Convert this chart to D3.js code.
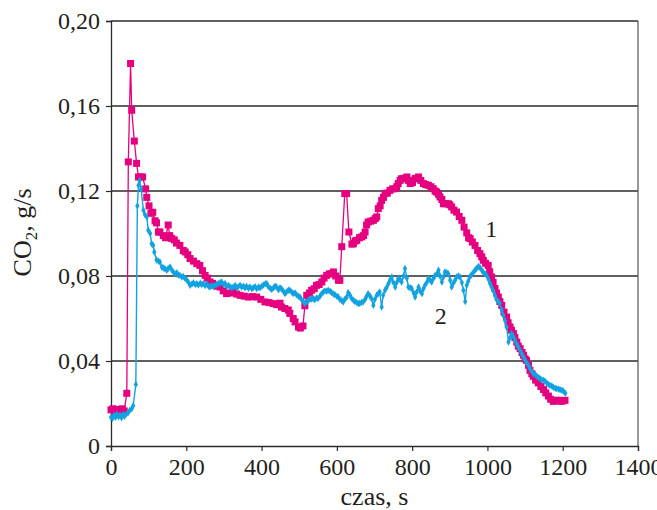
<!DOCTYPE html>
<html>
<head>
<meta charset="utf-8">
<script src="https://cdn.jsdelivr.net/npm/d3@7"></script>
<style>
  body { margin: 0; background: #fff; }
  text { font-family: "Liberation Serif", "Times New Roman", serif; fill: #231f20; }
</style>
</head>
<body>
<div id="chart"></div>
<script>
// time axis ticks and y axis ticks
const xTicks = [0, 200, 400, 600, 800, 1000, 1200, 1400];
const yTicks = [0, 0.04, 0.08, 0.12, 0.16, 0.2];

// series 1 (magenta, squares)
const time1 = [0, 5, 10, 15, 20, 25, 30, 35, 42, 46, 52, 55, 62, 68, 73, 79, 84, 92, 95, 101,
  106, 111, 117, 121, 126, 130, 139, 145, 152, 156, 161, 168, 174, 183, 192, 197, 204, 210, 219, 228,
  236, 243, 250, 256, 263, 270, 276, 283, 290, 298, 307, 316, 325, 334, 343, 354, 365, 376, 387, 398,
  409, 420, 431, 440, 449, 453, 462, 471, 475, 484, 489, 498, 503, 510, 515, 520, 527, 533, 540, 546,
  553, 560, 566, 573, 580, 586, 591, 597, 604, 608, 613, 621, 626, 632, 640, 644, 649, 653, 660, 666,
  671, 675, 679, 683, 690, 697, 702, 706, 710, 715, 719, 724, 728, 734, 741, 748, 755, 759, 763, 768,
  772, 779, 786, 790, 795, 801, 808, 812, 817, 823, 830, 836, 843, 850, 856, 861, 865, 870, 874, 879,
  883, 890, 896, 900, 905, 911, 918, 925, 932, 938, 945, 950, 954, 960, 967, 974, 980, 985, 989, 995,
  1002, 1006, 1011, 1015, 1020, 1024, 1029, 1033, 1038, 1044, 1051, 1055, 1060, 1064, 1069, 1073, 1078, 1082, 1087, 1092,
  1096, 1100, 1104, 1109, 1113, 1118, 1122, 1128, 1135, 1142, 1149, 1155, 1162, 1168, 1175, 1182, 1189, 1195, 1200, 1206];
const co2_1 = [0.017, 0.0175, 0.016, 0.0172, 0.017, 0.0168, 0.0175, 0.0165, 0.0248, 0.1337, 0.18, 0.158, 0.1435, 0.133, 0.1266, 0.1266, 0.1266, 0.121, 0.117, 0.113,
  0.1095, 0.11, 0.106, 0.105, 0.1007, 0.1007, 0.099, 0.098, 0.104, 0.099, 0.0977, 0.097, 0.0955, 0.0944, 0.092, 0.0913, 0.09, 0.0882, 0.087, 0.0858,
  0.085, 0.0825, 0.0803, 0.079, 0.0772, 0.0765, 0.0756, 0.0752, 0.0748, 0.073, 0.0717, 0.072, 0.0725, 0.0715, 0.0709, 0.0705, 0.0701, 0.0703, 0.0701, 0.069,
  0.0678, 0.0675, 0.067, 0.0665, 0.0672, 0.0654, 0.0647, 0.064, 0.0624, 0.06, 0.0584, 0.056, 0.0555, 0.0565, 0.066, 0.0709, 0.072, 0.0733, 0.074, 0.0756,
  0.076, 0.0772, 0.079, 0.0803, 0.081, 0.0811, 0.0819, 0.08, 0.078, 0.078, 0.0938, 0.1188, 0.1188, 0.1007, 0.095, 0.0952, 0.0965, 0.0968, 0.098, 0.0984,
  0.099, 0.1007, 0.104, 0.1054, 0.1058, 0.1062, 0.107, 0.1078, 0.1117, 0.113, 0.1156, 0.117, 0.1188, 0.119, 0.1203, 0.121, 0.1211, 0.122, 0.1235, 0.125,
  0.1258, 0.126, 0.1266, 0.125, 0.1235, 0.124, 0.1258, 0.126, 0.1266, 0.125, 0.1235, 0.123, 0.1227, 0.122, 0.1211, 0.12, 0.1195, 0.1185, 0.1172, 0.116,
  0.114, 0.114, 0.114, 0.1135, 0.1125, 0.111, 0.1101, 0.108, 0.1062, 0.103, 0.1003, 0.098, 0.0976, 0.096, 0.0944, 0.092, 0.0905, 0.089, 0.0874, 0.086,
  0.085, 0.082, 0.0795, 0.077, 0.0741, 0.072, 0.0701, 0.068, 0.0662, 0.063, 0.0607, 0.058, 0.056, 0.0545, 0.0529, 0.051, 0.0489, 0.047, 0.0458, 0.044,
  0.0427, 0.041, 0.0403, 0.038, 0.0356, 0.034, 0.0328, 0.031, 0.0297, 0.028, 0.0266, 0.025, 0.0235, 0.022, 0.021, 0.0215, 0.0215, 0.021, 0.0212, 0.0215];

// series 2 (cyan, diamonds)
const time2 = [0, 4, 8, 12, 16, 20, 24, 28, 32, 36, 40, 45, 50, 55, 59, 66, 70, 73, 76, 80,
  86, 90, 95, 99, 104, 108, 112, 115, 121, 126, 130, 135, 139, 143, 148, 152, 157, 161, 166, 170,
  175, 179, 183, 188, 192, 197, 201, 206, 210, 215, 219, 224, 228, 232, 237, 241, 245, 250, 254, 259,
  263, 267, 272, 276, 281, 285, 290, 294, 299, 303, 308, 312, 316, 321, 325, 330, 334, 338, 343, 347,
  352, 356, 360, 365, 369, 374, 378, 383, 387, 392, 396, 401, 405, 410, 414, 418, 423, 427, 432, 436,
  440, 445, 449, 453, 458, 462, 466, 471, 475, 480, 484, 489, 493, 498, 502, 506, 511, 515, 520, 524,
  528, 533, 537, 541, 546, 550, 555, 559, 564, 568, 573, 577, 582, 586, 591, 595, 600, 604, 608, 613,
  617, 621, 626, 630, 635, 639, 644, 648, 653, 657, 661, 666, 670, 675, 679, 683, 688, 692, 697, 701,
  706, 710, 714, 719, 723, 728, 732, 737, 741, 746, 750, 755, 759, 763, 768, 772, 777, 781, 786, 790,
  795, 799, 804, 808, 812, 817, 821, 826, 830, 834, 839, 843, 848, 852, 857, 861, 866, 870, 874, 879,
  883, 887, 892, 896, 901, 905, 909, 914, 918, 923, 927, 932, 936, 941, 945, 949, 953, 957, 962, 967,
  971, 976, 980, 985, 989, 994, 998, 1003, 1007, 1011, 1016, 1020, 1024, 1029, 1033, 1038, 1042, 1047, 1051, 1056,
  1060, 1064, 1069, 1073, 1078, 1082, 1087, 1091, 1096, 1100, 1104, 1109, 1113, 1118, 1122, 1127, 1131, 1136, 1140, 1144,
  1149, 1153, 1158, 1162, 1166, 1171, 1175, 1180, 1184, 1189, 1193, 1198, 1202, 1207];
const co2_2 = [0.0135, 0.013, 0.0145, 0.0135, 0.015, 0.0138, 0.0145, 0.0133, 0.0148, 0.014, 0.015, 0.0155, 0.0168, 0.0175, 0.019, 0.029, 0.113, 0.1227, 0.125, 0.121,
  0.111, 0.109, 0.1078, 0.1015, 0.1, 0.0952, 0.0945, 0.0913, 0.0875, 0.087, 0.0866, 0.0842, 0.0838, 0.0835, 0.0827, 0.0835, 0.0842, 0.083, 0.0818, 0.0811,
  0.0815, 0.0805, 0.0803, 0.0795, 0.0798, 0.0788, 0.0782, 0.077, 0.0756, 0.0762, 0.0768, 0.076, 0.0764, 0.0758, 0.0766, 0.076, 0.0764, 0.0755, 0.0762, 0.0752,
  0.0748, 0.0755, 0.075, 0.0756, 0.076, 0.0765, 0.0768, 0.0772, 0.076, 0.0765, 0.0752, 0.0756, 0.075, 0.0745, 0.0748, 0.0755, 0.0745, 0.075, 0.0756, 0.0748,
  0.0752, 0.0745, 0.0752, 0.0742, 0.0748, 0.074, 0.0745, 0.075, 0.074, 0.0748, 0.0745, 0.0752, 0.0758, 0.0764, 0.0764, 0.075, 0.0742, 0.0737, 0.0745, 0.0752,
  0.0748, 0.0735, 0.0745, 0.074, 0.0728, 0.0717, 0.0725, 0.0733, 0.0733, 0.0725, 0.0718, 0.072, 0.0712, 0.0705, 0.0701, 0.069, 0.068, 0.067, 0.0678, 0.0686,
  0.069, 0.0692, 0.0694, 0.0688, 0.0697, 0.0694, 0.0705, 0.0715, 0.0725, 0.073, 0.0728, 0.0733, 0.0728, 0.0722, 0.0715, 0.0712, 0.0705, 0.0701, 0.069, 0.0685,
  0.0678, 0.069, 0.07, 0.0722, 0.071, 0.0695, 0.0686, 0.068, 0.0675, 0.067, 0.0672, 0.0676, 0.0678, 0.069, 0.0705, 0.0717, 0.0706, 0.0694, 0.0662, 0.069,
  0.0709, 0.0718, 0.0725, 0.0654, 0.071, 0.0733, 0.0745, 0.0764, 0.078, 0.0795, 0.077, 0.0748, 0.077, 0.0788, 0.0782, 0.0772, 0.08, 0.0835, 0.079, 0.0748,
  0.0745, 0.0741, 0.072, 0.0701, 0.0725, 0.0748, 0.073, 0.0717, 0.074, 0.0756, 0.077, 0.0788, 0.078, 0.0772, 0.079, 0.0803, 0.081, 0.0827, 0.08, 0.0772,
  0.0795, 0.0819, 0.0815, 0.0811, 0.078, 0.0748, 0.0765, 0.078, 0.0795, 0.08, 0.0795, 0.077, 0.0733, 0.068, 0.0756, 0.0775, 0.0795, 0.0805, 0.0815, 0.0827,
  0.0835, 0.0845, 0.084, 0.0827, 0.0818, 0.081, 0.0803, 0.0785, 0.0765, 0.0748, 0.073, 0.0709, 0.069, 0.068, 0.067, 0.064, 0.0615, 0.059, 0.056, 0.0489,
  0.051, 0.0529, 0.0515, 0.0498, 0.048, 0.0466, 0.045, 0.0435, 0.0419, 0.0405, 0.0392, 0.038, 0.0365, 0.035, 0.034, 0.0335, 0.0328, 0.0322, 0.0317, 0.0312,
  0.0309, 0.0305, 0.0295, 0.029, 0.0286, 0.0282, 0.0276, 0.0272, 0.027, 0.0268, 0.0265, 0.0262, 0.0258, 0.0248];

const CHART = {
  selector: '#chart',
  options: {
    width: 657,
    height: 510,
    margins: { top: 21, right: 19, bottom: 64, left: 111 },
    color1: '#e4007f',
    color2: '#13a2e0',
    grid: '#2b2b2b',
    tickFont: 24,
    titleFont: 26,
  },

  init: function () {
    this.draw();
  },

  draw: function () {
    const o = this.options;
    const w = o.width - o.margins.left - o.margins.right;
    const h = o.height - o.margins.top - o.margins.bottom;

    const x = d3.scaleLinear().domain([0, 1400]).range([0, w]);
    const y = d3.scaleLinear().domain([0, 0.2]).range([h, 0]);
    const fmt = (d) => (d === 0 ? '0' : d3.format('.2f')(d).replace('.', ','));

    const svg = d3
      .select(this.selector)
      .append('svg')
      .attr('width', o.width)
      .attr('height', o.height);
    const g = svg
      .append('g')
      .attr('transform', 'translate(' + o.margins.left + ',' + o.margins.top + ')');

    // horizontal grid lines (top one is the frame)
    g.append('g')
      .selectAll('line')
      .data(yTicks.filter((d) => d > 0))
      .enter()
      .append('line')
      .attr('x1', 0)
      .attr('x2', w)
      .attr('y1', (d) => y(d))
      .attr('y2', (d) => y(d))
      .attr('stroke', o.grid)
      .attr('stroke-width', 1.3);

    // right frame
    g.append('line')
      .attr('x1', w).attr('x2', w)
      .attr('y1', 0).attr('y2', h)
      .attr('stroke', '#555')
      .attr('stroke-width', 1.2);

    // axes
    const yAxis = g
      .append('g')
      .call(d3.axisLeft(y).tickValues(yTicks).tickSize(5).tickPadding(6).tickFormat(fmt));
    const xAxis = g
      .append('g')
      .attr('transform', 'translate(0,' + h + ')')
      .call(d3.axisBottom(x).tickValues(xTicks).tickSize(5).tickPadding(7).tickFormat(d3.format('d')));
    [xAxis, yAxis].forEach((a) => {
      a.select('.domain').attr('stroke', o.grid).attr('stroke-width', 1.3);
      a.selectAll('.tick line').attr('stroke', o.grid).attr('stroke-width', 1.2);
      a.selectAll('.tick text')
        .attr('font-family', '"Liberation Serif", serif')
        .attr('font-size', o.tickFont)
        .attr('fill', '#231f20');
    });

    const s1 = time1.map((t, i) => ({ t: t, v: co2_1[i] }));
    const s2 = time2.map((t, i) => ({ t: t, v: co2_2[i] }));
    const line = d3
      .line()
      .x((d) => x(d.t))
      .y((d) => y(d.v));

    // series 1
    g.append('path')
      .datum(s1)
      .attr('d', line)
      .attr('fill', 'none')
      .attr('stroke', o.color1)
      .attr('stroke-width', 1.3);
    g.append('g')
      .selectAll('rect')
      .data(s1)
      .enter()
      .append('rect')
      .attr('x', (d) => x(d.t) - 3.5)
      .attr('y', (d) => y(d.v) - 3.5)
      .attr('width', 7)
      .attr('height', 7)
      .attr('fill', o.color1);

    // series 2
    g.append('path')
      .datum(s2)
      .attr('d', line)
      .attr('fill', 'none')
      .attr('stroke', o.color2)
      .attr('stroke-width', 1.4);
    const diamond = d3.symbol().type(d3.symbolDiamond).size(16);
    g.append('g')
      .selectAll('path')
      .data(s2)
      .enter()
      .append('path')
      .attr('d', diamond)
      .attr('transform', (d) => 'translate(' + x(d.t) + ',' + y(d.v) + ')')
      .attr('fill', o.color2);

    // series labels
    g.append('text')
      .attr('x', x(1010))
      .attr('y', y(0.0985))
      .attr('text-anchor', 'middle')
      .attr('font-size', o.tickFont)
      .text('1');
    g.append('text')
      .attr('x', x(876))
      .attr('y', y(0.0572))
      .attr('text-anchor', 'middle')
      .attr('font-size', o.tickFont)
      .text('2');

    // axis titles
    svg.append('text')
      .attr('x', o.margins.left + x(700))
      .attr('y', 505)
      .attr('text-anchor', 'middle')
      .attr('font-size', o.titleFont)
      .text('czas, s');

    const yt = svg.append('text')
      .attr('transform', 'translate(31,' + (o.margins.top + y(0.1005)) + ') rotate(-90)')
      .attr('text-anchor', 'middle')
      .attr('font-size', o.titleFont);
    yt.append('tspan').text('CO');
    yt.append('tspan').attr('font-size', 17).attr('dy', 6).text('2');
    yt.append('tspan').attr('dy', -6).text(', g/s');
  },
};

CHART.init();
</script>
</body>
</html>
